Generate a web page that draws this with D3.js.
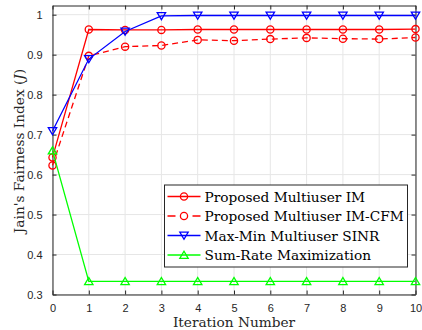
<!DOCTYPE html>
<html>
<head>
<meta charset="utf-8">
<script src="https://cdn.jsdelivr.net/npm/d3@7"></script>
<style>
  html, body { margin: 0; padding: 0; background: #fff; }
  svg { display: block; }
</style>
</head>
<body>
<div id="chart"></div>
<script>
// Jain's fairness index vs. iteration, four schemes
var iterations = [0, 1, 2, 3, 4, 5, 6, 7, 8, 9, 10];
var xTicks = [0, 1, 2, 3, 4, 5, 6, 7, 8, 9, 10];
var yTicks = [0.3, 0.4, 0.5, 0.6, 0.7, 0.8, 0.9, 1];

var imValues    = [0.643, 0.963, 0.962, 0.962, 0.963, 0.963, 0.963, 0.963, 0.963, 0.963, 0.964];
var imCfmValues = [0.623, 0.897, 0.920, 0.923, 0.937, 0.935, 0.939, 0.942, 0.940, 0.939, 0.943];
var maxMinValues = [0.709, 0.889, 0.958, 0.997, 0.998, 0.998, 0.998, 0.998, 0.998, 0.998, 0.998];
var sumRateValues = [0.660, 0.333, 0.333, 0.333, 0.333, 0.333, 0.333, 0.333, 0.333, 0.333, 0.333];

var seriesNames = [
    "Proposed Multiuser IM",
    "Proposed Multiuser IM-CFM",
    "Max-Min Multiuser SINR",
    "Sum-Rate Maximization"
];

var series = [
    { name: seriesNames[0], values: imValues,      color: "#ff0000", dash: null,  marker: "circle" },
    { name: seriesNames[1], values: imCfmValues,   color: "#ff0000", dash: "6,4", marker: "circle" },
    { name: seriesNames[2], values: maxMinValues,  color: "#0000ff", dash: null,  marker: "down" },
    { name: seriesNames[3], values: sumRateValues, color: "#00ff00", dash: null,  marker: "up" }
];

var totalW = 422, totalH = 330;
var margin = { top: 5.5, right: 6.5, bottom: 35.5, left: 52.5 };
var width = totalW - margin.left - margin.right;
var height = totalH - margin.top - margin.bottom;

var svg = d3.select("#chart").append("svg")
    .attr("width", totalW)
    .attr("height", totalH);

var g = svg.append("g")
    .attr("transform", "translate(" + margin.left + "," + margin.top + ")");

var x = d3.scaleLinear().domain([0, 10]).range([0, width]);
var y = d3.scaleLinear().domain([0.3, 1.023]).range([height, 0]);

var axisColor = "#262626";
var tickFont = "'Liberation Sans', Arial, sans-serif";
var serifFont = "'DejaVu Serif', serif";

// --- Grid ---
g.append("g").selectAll("line.gx").data(xTicks).enter().append("line")
    .attr("x1", function(d) { return x(d); })
    .attr("x2", function(d) { return x(d); })
    .attr("y1", 0).attr("y2", height)
    .style("stroke", "#e6e6e6").style("stroke-width", 1);
g.append("g").selectAll("line.gy").data(yTicks).enter().append("line")
    .attr("x1", 0).attr("x2", width)
    .attr("y1", function(d) { return y(d); })
    .attr("y2", function(d) { return y(d); })
    .style("stroke", "#e6e6e6").style("stroke-width", 1);

// --- Axes (ticks inside, on all four sides) ---
function styleAxis(sel) {
    sel.selectAll("path, line").style("stroke", axisColor);
    sel.selectAll("text")
        .style("font-family", tickFont)
        .style("font-size", "11px")
        .style("fill", axisColor);
}

g.append("g")
    .attr("transform", "translate(0," + height + ")")
    .call(d3.axisBottom(x).tickValues(xTicks).tickSizeInner(-4).tickSizeOuter(0).tickPadding(10).tickFormat(d3.format("d")))
    .call(styleAxis);
g.append("g")
    .call(d3.axisTop(x).tickValues(xTicks).tickSizeInner(-4).tickSizeOuter(0).tickFormat(""))
    .call(styleAxis);
g.append("g")
    .call(d3.axisLeft(y).tickValues(yTicks).tickSizeInner(-4).tickSizeOuter(0).tickPadding(10).tickFormat(function(d) { return d === 1 ? "1" : d3.format(".1f")(d); }))
    .call(styleAxis);
g.append("g")
    .attr("transform", "translate(" + width + ",0)")
    .call(d3.axisRight(y).tickValues(yTicks).tickSizeInner(-4).tickSizeOuter(0).tickFormat(""))
    .call(styleAxis);

// --- Markers ---
var triSize = 4.2;
function drawMarker(sel, type, color, cx, cy) {
    if (type === "circle") {
        sel.append("circle")
            .attr("cx", cx).attr("cy", cy).attr("r", 3.6)
            .style("fill", "none").style("stroke", color).style("stroke-width", 1.3);
    } else {
        var s = triSize;
        var pts = type === "down"
            ? [[cx - s, cy - s * 0.8], [cx + s, cy - s * 0.8], [cx, cy + s * 0.9]]
            : [[cx - s, cy + s * 0.8], [cx + s, cy + s * 0.8], [cx, cy - s * 0.9]];
        sel.append("path")
            .attr("d", "M" + pts.map(function(p) { return p.join(","); }).join("L") + "Z")
            .style("fill", "none").style("stroke", color).style("stroke-width", 1.3);
    }
}

// --- Lines ---
var line = d3.line()
    .x(function(d, i) { return x(iterations[i]); })
    .y(function(d) { return y(d); });

series.forEach(function(s) {
    g.append("path")
        .datum(s.values)
        .attr("fill", "none")
        .attr("stroke", s.color)
        .attr("stroke-width", 1.3)
        .attr("stroke-dasharray", s.dash)
        .attr("d", line);
    var mg = g.append("g");
    s.values.forEach(function(v, i) {
        drawMarker(mg, s.marker, s.color, x(iterations[i]), y(v));
    });
});

// --- Legend ---
var legX = 164.5, legY = 185, legW = 243, legH = 82;
var leg = svg.append("g");
leg.append("rect")
    .attr("x", legX).attr("y", legY).attr("width", legW).attr("height", legH)
    .style("fill", "#fff").style("stroke", axisColor).style("stroke-width", 1);

series.forEach(function(s, i) {
    var ly = legY + 11.5 + i * 19.5;
    leg.append("line")
        .attr("x1", legX + 3).attr("x2", legX + 36)
        .attr("y1", ly).attr("y2", ly)
        .style("stroke", s.color).style("stroke-width", 1.3)
        .style("stroke-dasharray", s.dash ? "8,17" : null);
    drawMarker(leg, s.marker, s.color, legX + 19.5, ly);
    leg.append("text")
        .attr("x", legX + 40).attr("y", ly + 5)
        .style("font-family", serifFont)
        .style("font-size", "13.7px")
        .style("fill", "#000")
        .text(s.name);
});

// --- Axis labels ---
svg.append("text")
    .attr("x", margin.left + width / 2)
    .attr("y", 326.5)
    .attr("text-anchor", "middle")
    .style("font-family", serifFont)
    .style("font-size", "13.7px")
    .style("fill", axisColor)
    .text("Iteration Number");

var yl = svg.append("text")
    .attr("transform", "translate(24," + 151 + ") rotate(-90)")
    .attr("text-anchor", "middle")
    .style("font-family", serifFont)
    .style("font-size", "13.7px")
    .style("fill", axisColor);
yl.append("tspan").text("Jain's Fairness Index (");
yl.append("tspan").style("font-style", "italic").text("J");
yl.append("tspan").text(")");
</script>
</body>
</html>
